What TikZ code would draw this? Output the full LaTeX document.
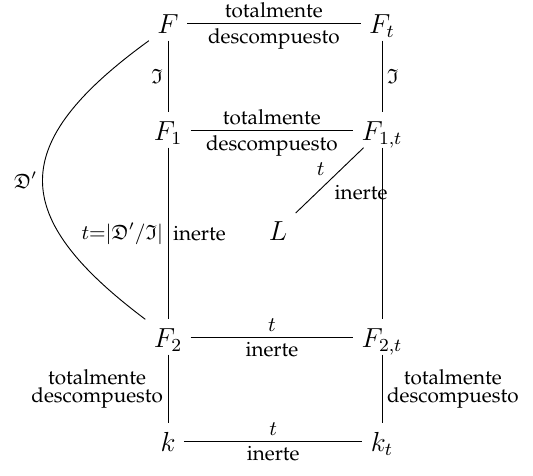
\documentclass[tikz,border=0pt]{standalone}
\usepackage[T1]{fontenc}
\usepackage{palatino}
\usepackage{amsmath,amssymb}
\usetikzlibrary{positioning}
\tikzset{
  obj/.style={font=\large,inner xsep=3.5pt,inner ysep=2.5pt,text height=9.5pt,text depth=0.5pt},
  lbl/.style={font=\small,inner sep=2pt}
}

\begin{document}
\begin{tikzpicture}[x=0.0153cm,y=-0.0153cm]
  \useasboundingbox (0,0) rectangle (533,475);
  % campos
  \node[obj] (F)   at (168,23)  {$F$};
  \node[obj] (Ft)  at (382,23)  {$F_t$};
  \node[obj] (F1)  at (168,130) {$F_1$};
  \node[obj] (F1t) at (382,130) {$F_{1,t}$};
  \node[obj] (L)   at (278,230) {$L$};
  \node[obj] (F2)  at (168,337) {$F_2$};
  \node[obj] (F2t) at (382,337) {$F_{2,t}$};
  \node[obj] (k)   at (168,441) {$k$};
  \node[obj] (kt)  at (382,441) {$k_t$};
  % horizontales
  \draw (F) -- (Ft) node[lbl,midway,above]{totalmente} node[lbl,midway,below]{descompuesto};
  \draw (F1) -- (F1t) node[lbl,midway,above]{totalmente} node[lbl,midway,below]{descompuesto};
  \draw (F2) -- (F2t) node[lbl,midway,above]{$t$} node[lbl,midway,below]{inerte};
  \draw (k) -- (kt) node[lbl,midway,above]{$t$} node[lbl,midway,below]{inerte};
  % verticales
  \draw (F) -- (F1) node[lbl,midway,left]{$\mathfrak{I}$};
  \draw (Ft) -- (F1t) node[lbl,midway,right]{$\mathfrak{I}$};
  \draw (F1) -- (F2) node[lbl,midway,left]{$t{=}|\mathfrak{D}'/\mathfrak{I}|$} node[lbl,midway,right]{inerte};
  \draw (F1t) -- (F2t);
  \draw (F2) -- (k) node[lbl,midway,left,align=center]{totalmente\\[-3.5pt]descompuesto};
  \draw (F2t) -- (kt) node[lbl,midway,right,align=center]{totalmente\\[-3.5pt]descompuesto};
  % L
  \draw (L) -- (F1t) node[lbl,midway,above left]{$t$} node[lbl,midway,below right]{inerte};
  % curva
  \draw (F.south west) .. controls +(-142,103) and +(-137,-103) .. (F2.north west)
    node[lbl,midway,left]{$\mathfrak{D}'$};
\end{tikzpicture}
\end{document}
